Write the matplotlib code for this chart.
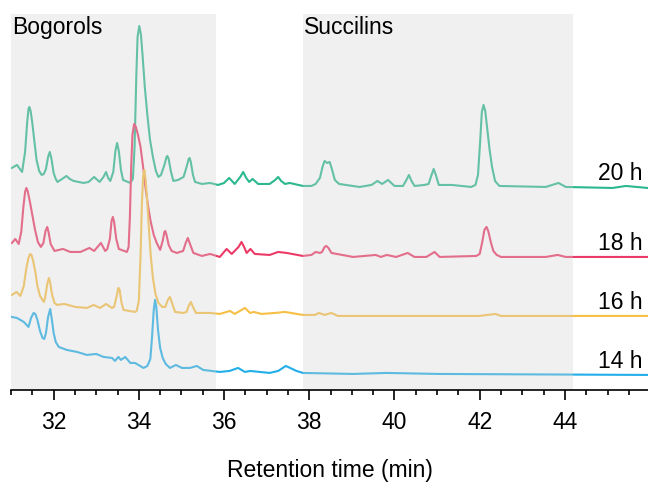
import numpy as np
import matplotlib.pyplot as plt

plt.rcParams['font.family'] = ['Liberation Sans', 'DejaVu Sans']

# traces: (retention time in min, signal above own baseline)
trace_20h = [(31.02, 19), (31.14, 22), (31.26, 15), (31.33, 35), (31.38, 65), (31.41, 78),
             (31.43, 80), (31.46, 76), (31.50, 64), (31.55, 45), (31.60, 27), (31.66, 16),
             (31.72, 12), (31.77, 13), (31.82, 18), (31.87, 30), (31.91, 35), (31.95, 28),
             (32.0, 14), (32.05, 8), (32.09, 5), (32.20, 8), (32.30, 11), (32.38, 8),
             (32.47, 6), (32.70, 4), (32.82, 5), (32.95, 10), (33.08, 5), (33.17, 10),
             (33.23, 15), (33.28, 9), (33.33, 6), (33.40, 15), (33.45, 36), (33.49, 44),
             (33.53, 36), (33.58, 17), (33.63, 7), (33.80, 4), (33.86, 8), (33.90, 40),
             (33.94, 110), (33.97, 150), (34.01, 161), (34.05, 152), (34.09, 130), (34.14, 100),
             (34.20, 72), (34.26, 48), (34.33, 30), (34.40, 16), (34.46, 10), (34.52, 12),
             (34.60, 22), (34.65, 30), (34.67, 31), (34.70, 28), (34.75, 16), (34.81, 6),
             (34.92, 7), (35.05, 10), (35.12, 20), (35.17, 28), (35.19, 29), (35.22, 25),
             (35.27, 12), (35.32, 5), (35.48, 3), (35.67, 4), (35.86, 2), (36.00, 4),
             (36.12, 9), (36.25, 3), (36.38, 10), (36.45, 15), (36.52, 9), (36.59, 5),
             (36.67, 8), (36.80, 3), (37.07, 3), (37.20, 7), (37.27, 10), (37.34, 6),
             (37.43, 3), (37.54, 4), (37.85, 1), (38.05, 1), (38.15, 3), (38.25, 9),
             (38.31, 20), (38.36, 26), (38.42, 24), (38.48, 25), (38.53, 18), (38.60, 7),
             (38.70, 3), (39.18, 0), (39.46, 2), (39.60, 6), (39.71, 3), (39.85, 7),
             (40.0, 1), (40.2, 1), (40.28, 7), (40.34, 12), (40.40, 6), (40.47, 1),
             (40.70, 2), (40.80, 3), (40.87, 12), (40.92, 18), (40.97, 12), (41.04, 2),
             (41.35, 2), (41.80, 0), (41.90, 2), (41.96, 12), (42.01, 45), (42.05, 75),
             (42.09, 82), (42.13, 76), (42.18, 57), (42.23, 38), (42.29, 20), (42.36, 6),
             (42.46, 1), (43.55, 0), (43.85, 4), (44.02, 0), (45.12, -1), (45.43, 1),
             (45.94, -1)]

trace_18h = [(31.02, 14), (31.10, 18), (31.18, 13), (31.24, 25), (31.29, 50), (31.33, 65),
             (31.36, 69), (31.39, 66), (31.44, 56), (31.50, 42), (31.56, 28), (31.63, 15),
             (31.70, 10), (31.76, 14), (31.81, 26), (31.85, 30), (31.88, 25), (31.93, 13),
             (32.02, 6), (32.22, 8), (32.39, 5), (32.63, 5), (32.84, 9), (32.95, 6),
             (33.11, 14), (33.21, 6), (33.26, 8), (33.32, 18), (33.36, 36), (33.39, 40),
             (33.42, 35), (33.47, 18), (33.53, 8), (33.72, 5), (33.76, 10), (33.79, 40),
             (33.82, 90), (33.85, 122), (33.89, 133), (33.93, 130), (33.98, 122), (34.04, 110),
             (34.10, 90), (34.16, 68), (34.22, 50), (34.28, 35), (34.35, 22), (34.42, 14),
             (34.50, 7), (34.56, 16), (34.60, 25), (34.62, 26), (34.65, 22), (34.70, 12),
             (34.77, 6), (34.89, 4), (35.04, 6), (35.10, 14), (35.15, 19), (35.20, 13),
             (35.28, 4), (35.48, 1), (35.67, 3), (35.90, 0), (36.06, 8), (36.18, 3),
             (36.34, 10), (36.41, 15), (36.47, 10), (36.53, 4), (36.62, 8), (36.72, 3),
             (37.07, 2), (37.27, 5), (37.47, 4), (37.85, 1), (38.05, 2), (38.15, 5),
             (38.25, 4), (38.30, 5), (38.36, 10), (38.40, 11), (38.45, 9), (38.52, 4),
             (39.03, 0), (39.56, 2), (39.68, 0), (39.82, 2), (40.04, 0), (40.31, 4),
             (40.47, 0), (40.75, 0), (40.94, 5), (41.06, 0), (41.92, 1), (42.00, 3),
             (42.06, 15), (42.11, 27), (42.16, 30), (42.20, 26), (42.26, 15), (42.32, 6),
             (42.40, 2), (42.50, 0), (43.55, 0), (43.83, 2), (44.02, 0), (45.94, 0)]

trace_16h = [(31.02, 21), (31.13, 24), (31.22, 20), (31.30, 30), (31.36, 48), (31.41, 58),
             (31.45, 62), (31.48, 61), (31.52, 55), (31.57, 44), (31.62, 30), (31.68, 20),
             (31.77, 14), (31.80, 18), (31.85, 32), (31.89, 38), (31.92, 33), (31.96, 22),
             (32.02, 13), (32.08, 11), (32.25, 12), (32.51, 9), (32.78, 8), (32.94, 11),
             (33.09, 8), (33.23, 12), (33.37, 8), (33.42, 9), (33.48, 20), (33.52, 28),
             (33.55, 26), (33.59, 14), (33.64, 6), (33.91, 4), (33.95, 5), (34.0, 15),
             (34.04, 60), (34.07, 110), (34.10, 140), (34.13, 146), (34.16, 136), (34.20, 112),
             (34.24, 85), (34.28, 60), (34.33, 38), (34.39, 22), (34.46, 13), (34.55, 9),
             (34.62, 9), (34.68, 16), (34.73, 19), (34.78, 13), (34.85, 4), (35.04, 3),
             (35.12, 4), (35.18, 11), (35.22, 14), (35.26, 10), (35.34, 3), (35.67, 3),
             (35.90, 2), (36.14, 5), (36.25, 2), (36.49, 8), (36.61, 3), (36.70, 4),
             (36.88, 2), (37.19, 3), (37.43, 4), (37.85, 1), (38.13, 1), (38.23, 3),
             (38.36, 1), (38.52, 3), (38.67, 0), (41.99, 0), (42.37, 2), (42.50, 0),
             (45.94, 0)]

trace_14h = [(31.02, 58), (31.14, 57), (31.30, 53), (31.41, 48), (31.47, 57), (31.53, 62),
             (31.57, 61), (31.62, 55), (31.68, 44), (31.74, 37), (31.78, 36), (31.82, 42),
             (31.87, 58), (31.92, 66), (31.96, 55), (32.0, 42), (32.05, 33), (32.12, 28),
             (32.31, 25), (32.55, 23), (32.78, 20), (33.00, 21), (33.17, 18), (33.37, 17),
             (33.44, 14), (33.52, 18), (33.58, 15), (33.68, 18), (33.80, 12), (33.91, 12),
             (34.11, 7), (34.20, 9), (34.27, 16), (34.31, 38), (34.35, 65), (34.38, 75),
             (34.41, 68), (34.45, 45), (34.50, 27), (34.56, 17), (34.63, 11), (34.73, 7),
             (34.87, 10), (35.01, 7), (35.20, 7), (35.36, 9), (35.51, 5), (35.90, 3),
             (36.13, 4), (36.33, 7), (36.49, 3), (36.61, 4), (37.07, 2), (37.27, 4),
             (37.45, 9), (37.70, 4), (37.85, 2), (39.03, 1), (39.81, 2), (41.02, 1),
             (45.94, 0)]

labels = ['20 h', '18 h', '16 h', '14 h']
regions = ['Bogorols', 'Succilins']
region_start = [31.0, 37.86]
region_end = [35.82, 44.18]

traces = [trace_20h, trace_18h, trace_16h, trace_14h]
offsets = [203, 133, 74, 15]
colors = ['#2bb88e', '#ec3a66', '#f6bf45', '#22aee8']

fig = plt.figure(figsize=(6.48, 4.82), dpi=100)
ax = fig.add_axes([0.017, 0.191, 0.983, 0.780])

for tr, off, c, lab in zip(traces, offsets, colors, labels):
    rt, sig = np.array(tr).T
    ax.plot(rt, sig + off, color=c, lw=1.5, solid_joinstyle='round', zorder=1)
    ax.text(45.83, off + 7, lab, ha='right', va='baseline', fontsize=16.5, zorder=3)

# grey boxes sit on top of the traces, so the lines look paler inside them
for x0, x1, name in zip(region_start, region_end, regions):
    ax.axvspan(x0, x1, color='#d3d3d3', alpha=0.34, lw=0, zorder=2)
    ax.text(x0 + 0.02, 356, name, ha='left', va='baseline', fontsize=16.5, zorder=3)

ax.set_xlim(31.008, 45.95)
ax.set_ylim(0, 376)
ax.set_xticks([32, 34, 36, 38, 40, 42, 44])
ax.set_xticks(np.arange(31, 46, 0.5), minor=True)
ax.tick_params(axis='x', which='major', length=7.2, width=1.2, labelsize=16.5, pad=8)
ax.tick_params(axis='x', which='minor', length=3.6, width=1.2)
ax.set_yticks([])
for s in ['left', 'right', 'top']:
    ax.spines[s].set_visible(False)
ax.spines['bottom'].set_linewidth(1.2)
ax.set_xlabel('Retention time (min)', fontsize=16.5, labelpad=18)

fig.savefig('out.png', dpi=100)
